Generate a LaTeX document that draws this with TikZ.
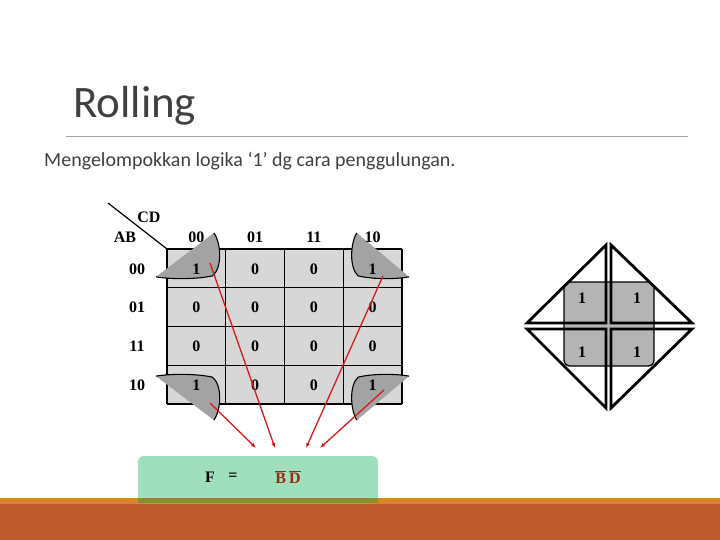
\documentclass[tikz,border=0pt]{standalone}
\usepackage{fontspec}
\setmainfont{Carlito}
\newfontfamily\kmapfont{Liberation Serif}
\usepackage{tikz}
\usetikzlibrary{
	positioning,
	arrows.meta
}

\definecolor{titlegray}{HTML}{404040}
\definecolor{rulegray}{HTML}{A6A6A6}
\definecolor{cellgray}{HTML}{D7D7D7}
\definecolor{foldgray}{HTML}{A3A3A3}
\definecolor{groupgray}{HTML}{B4B4B4}
\definecolor{arrowred}{HTML}{D41C1C}
\definecolor{termred}{HTML}{9C2A16}
\definecolor{boxgreen}{HTML}{A0DFBE}
\definecolor{bandolive}{HTML}{8A8C2E}
\definecolor{stripeorange}{HTML}{E0861F}
\definecolor{stripebrown}{HTML}{BC5A2C}

\tikzset{
	kmap/.style={font=\kmapfont\bfseries\fontsize{16}{16}\selectfont},
	fold/.pic={
		\fill[foldgray] (-40.5,8.5) -- (17.5,-35.5)
			.. controls (25,-25) and (26,0) .. (16,7.5)
			.. controls (0,11) and (-25,11) .. (-40.5,8.5) -- cycle;
		\draw[line width=1.1pt] (17.5,-35.5)
			.. controls (25,-25) and (26,0) .. (16,7.5)
			.. controls (0,11) and (-25,11) .. (-40.5,8.5);
	},
	roll/.style={arrowred,line width=1.3pt,-{Latex[length=5pt,width=4pt]}},
	tri/.style={line width=2.8pt,line join=miter}
}

\begin{document}
\begin{tikzpicture}[x=1pt,y=-1pt]
	\useasboundingbox (0,0) rectangle (720,540);

	% title
	\node[anchor=base west,inner sep=0,text=titlegray,font=\fontsize{45}{45}\selectfont] (title) at (73,118) {Rolling};
	\draw[rulegray,line width=0.8pt] (66,136) -- (688,136);
	\node[anchor=base west,inner sep=0,text=titlegray,font=\fontsize{20}{20}\selectfont] (sub) at (44,167) {Mengelompokkan logika ‘1’ dg cara penggulungan.};

	% karnaugh map
	\fill[cellgray] (167,249) rectangle (402,404);
	\foreach \k in {0,...,4} {
		\draw[line width=1.3pt] ({167+58.75*\k},249) -- ({167+58.75*\k},404);
		\draw[line width=1.3pt] (167,{249+38.75*\k}) -- (402,{249+38.75*\k});
	}
	\pic at (196.375,268.375) {fold};
	\pic[xscale=-0.9] at (372.625,268.375) {fold};
	\pic[yscale=-1] at (196.375,384.625) {fold};
	\pic[xscale=-0.9,yscale=-1] at (372.625,384.625) {fold};

	\foreach \vals [count=\r from 0] in {{1,0,0,1},{0,0,0,0},{0,0,0,0},{1,0,0,1}}
		\foreach \v [count=\c from 0] in \vals
			\node[kmap] (c\r\c) at ({167+58.75*(\c+.5)},{249.5+38.75*(\r+.5)}) {\v};

	\foreach \h [count=\k from 0] in {00,01,11,10} {
		\node[kmap] (col\k) at ({196.4+58.75*\k},237) {\h};
		\node[kmap] (row\k) at (137,{269+38.75*\k}) {\h};
	}
	\node[kmap] (cd) at (149,217) {CD};
	\node[kmap] (ab) at (125,237) {AB};
	\coordinate (corner) at (167,249);
	\draw[line width=1.2pt] (108,203) -- (corner);

	% footer stripes and result box
	\fill[stripeorange] (0,498) rectangle (720,504);
	\fill[stripebrown] (0,504) rectangle (720,540);
	\node[fill=boxgreen,rounded corners=6pt,minimum width=240pt,minimum height=47pt,inner sep=0] (result) at (258,479.5) {};
	\fill[bandolive] (138,498) rectangle (378,503);
	\node[kmap] (f) at (210,477) {F};
	\node[kmap] (eq) at (233,477) {=};
	\node[kmap,text=termred] (bd) at (288,477) {$\overline{\hbox{B}}\,\overline{\hbox{D}}$};

	% rolling arrows
	\coordinate (s1) at (210,263);
	\coordinate (s2) at (383,276);
	\coordinate (s3) at (210,403);
	\coordinate (s4) at (384,390);
	\coordinate (e1) at (275,448);
	\coordinate (e2) at (306,448);
	\coordinate (e3) at (256,448);
	\coordinate (e4) at (320,448);
	\foreach \k in {1,...,4}
		\draw[roll] (s\k) -- (e\k);

	% rolled-up group
	\draw[line width=1.3pt,fill=groupgray,rounded corners=6pt] (564,282) rectangle (654,366);
	\draw[tri] (527,323) -- (606,245) -- (606,323) -- cycle;
	\draw[tri] (611,245) -- (692,323) -- (611,323) -- cycle;
	\draw[tri] (527,329) -- (606,408) -- (606,329) -- cycle;
	\draw[tri] (611,329) -- (611,408) -- (692,329) -- cycle;
	\node[kmap] (g1) at (582,298) {1};
	\node[kmap] (g2) at (637,298) {1};
	\node[kmap] (g3) at (582,352) {1};
	\node[kmap] (g4) at (637,352) {1};
\end{tikzpicture}
\end{document}
